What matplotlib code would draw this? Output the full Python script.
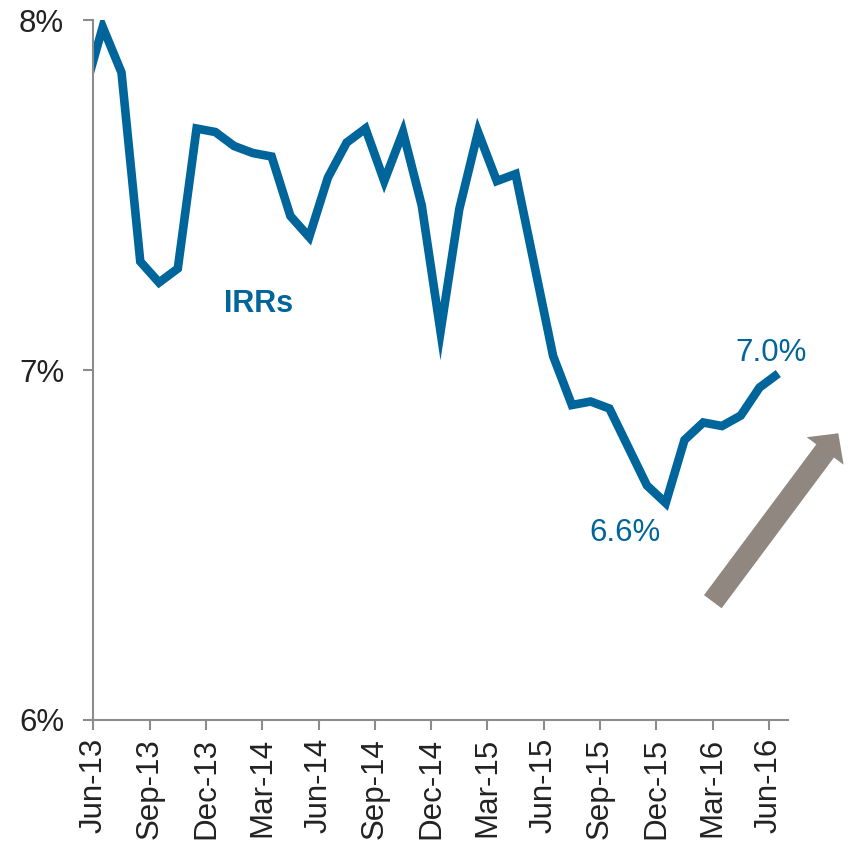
import matplotlib
matplotlib.use("Agg")
import matplotlib.pyplot as plt
from matplotlib.patches import FancyArrow

plt.rcParams['font.family'] = ['Liberation Sans', 'DejaVu Sans']

# monthly IRR (%), first value is the month before Jun-13 (clipped by the axis)
months = list(range(-1, 37))
irr = [7.79, 7.98, 7.85, 7.31, 7.25, 7.29, 7.69, 7.68, 7.64, 7.62,
       7.61, 7.44, 7.38, 7.55, 7.65, 7.69, 7.54, 7.68, 7.47, 7.11,
       7.46, 7.68, 7.54, 7.56, 7.30, 7.04, 6.90, 6.91, 6.89, 6.78,
       6.67, 6.62, 6.80, 6.85, 6.84, 6.87, 6.95, 6.99]

tick_labels = ["Jun-13", "Sep-13", "Dec-13", "Mar-14", "Jun-14", "Sep-14", "Dec-14",
               "Mar-15", "Jun-15", "Sep-15", "Dec-15", "Mar-16", "Jun-16"]
y_ticks = [6, 7, 8]
y_tick_labels = ["6%", "7%", "8%"]

blue = "#00659a"
grey = "#8c8c8c"

fig = plt.figure(figsize=(8.51, 8.42), dpi=100)
ax = fig.add_axes([0.1097, 0.1449, 0.8159, 0.8313])

xs = [m + 0.5 for m in months]
ax.plot(xs, irr, color=blue, lw=6.2, solid_joinstyle='miter', solid_capstyle='butt')

ax.set_xlim(0, 37)
ax.set_ylim(6, 8)
ax.set_xticks(list(range(0, 37, 3)))
ax.set_xticklabels(tick_labels, rotation=90, fontsize=22.5)
ax.set_yticks(y_ticks)
ax.set_yticklabels(y_tick_labels, fontsize=22.5)

for s in ['top', 'right']:
    ax.spines[s].set_visible(False)
for s in ['left', 'bottom']:
    ax.spines[s].set_color(grey)
    ax.spines[s].set_linewidth(1.5)
ax.tick_params(axis='y', length=7, width=1.5, color=grey, pad=14, labelcolor='#222222')
ax.tick_params(axis='x', length=7, width=1.5, color=grey, pad=6, labelcolor='#222222')

ax.text(8.82, 7.19, "IRRs", color=blue, fontsize=22, fontweight='bold',
        ha='center', va='center')
ax.text(36.09, 7.05, "7.0%", color=blue, fontsize=22.5, ha='center', va='center',
        clip_on=False)
ax.text(28.31, 6.535, "6.6%", color=blue, fontsize=22.5, ha='center', va='center')

# arrow overlay in pixel coordinates
ov = fig.add_axes([0, 0, 1, 1])
ov.set_xlim(0, 851)
ov.set_ylim(842, 0)
ov.axis('off')
ov.patch.set_alpha(0)
ov.add_patch(FancyArrow(712.8, 601.7, 125.5, -168.4, width=22, head_width=46,
                        head_length=22, length_includes_head=True,
                        color="#908880", lw=0))

fig.savefig("out.png", dpi=100)
